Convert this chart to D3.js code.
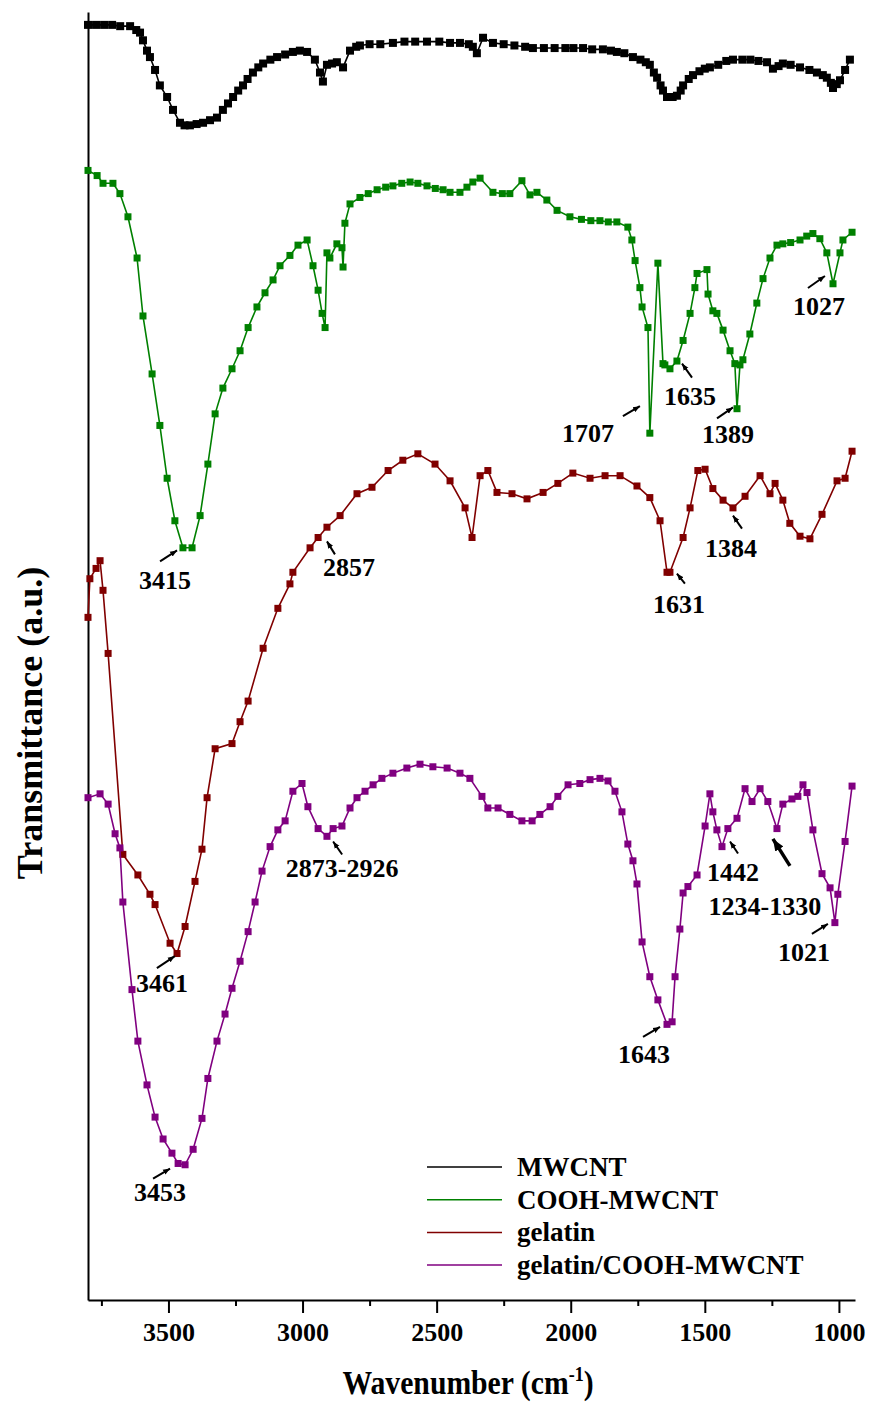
<!DOCTYPE html>
<html>
<head>
<meta charset="utf-8">
<script src="https://cdn.jsdelivr.net/npm/d3@7"></script>
<style>
  body { margin: 0; background: #fff; }
  svg text { font-family: 'Liberation Serif', 'Times New Roman', serif; font-weight: bold; fill: #000; }
</style>
</head>
<body>
<div id="chart"></div>
<script>
// series names / colours
const seriesNames = ['MWCNT', 'COOH-MWCNT', 'gelatin', 'gelatin/COOH-MWCNT'];
const seriesColors = ['#000000', '#008000', '#800000', '#800080'];

// MWCNT
const mwcntWave = [3800, 3770, 3740, 3710, 3680, 3643, 3620, 3606, 3595, 3580, 3569, 3550, 3532, 3505, 3483, 3457, 3440, 3420, 3395, 3371,
  3345, 3319, 3297, 3278, 3259, 3240, 3222, 3205, 3185, 3165, 3147, 3120, 3095, 3065, 3036, 3010, 2983, 2954, 2935, 2924,
  2909, 2890, 2872, 2849, 2823, 2800, 2786, 2750, 2710, 2663, 2620, 2580, 2536, 2490, 2450, 2413, 2380, 2365, 2350, 2327,
  2290, 2250, 2210, 2170, 2141, 2100, 2060, 2020, 1990, 1954, 1920, 1880, 1850, 1828, 1800, 1768, 1740, 1720, 1705, 1690,
  1678, 1665, 1656, 1641, 1620, 1604, 1590, 1581, 1560, 1544, 1520, 1500, 1481, 1450, 1420, 1395, 1360, 1330, 1300, 1268,
  1246, 1225, 1209, 1180, 1145, 1110, 1082, 1060, 1045, 1030, 1022, 1008, 996, 977, 959];
const mwcntT = [99.0, 99.0, 99.0, 99.0, 98.9, 98.9, 98.6, 98.4, 97.8, 97.0, 96.5, 95.5, 94.3, 93.4, 92.4, 91.4, 91.2, 91.2, 91.3, 91.4,
  91.6, 91.8, 92.4, 92.9, 93.4, 93.9, 94.3, 94.8, 95.3, 95.7, 96.0, 96.3, 96.5, 96.7, 96.9, 97.0, 96.9, 96.3, 95.3, 94.6,
  95.9, 96.0, 96.1, 95.7, 97.0, 97.3, 97.4, 97.5, 97.5, 97.6, 97.7, 97.7, 97.7, 97.7, 97.6, 97.6, 97.5, 97.3, 96.8, 98.0,
  97.6, 97.5, 97.4, 97.3, 97.2, 97.2, 97.2, 97.2, 97.2, 97.2, 97.1, 97.1, 97.0, 96.9, 96.8, 96.5, 96.3, 96.1, 95.9, 95.3,
  94.9, 94.3, 93.9, 93.4, 93.4, 93.5, 93.9, 94.3, 94.8, 95.1, 95.4, 95.6, 95.7, 95.9, 96.2, 96.3, 96.3, 96.3, 96.2, 96.1,
  95.6, 95.8, 96.0, 95.9, 95.7, 95.5, 95.3, 95.1, 94.9, 94.5, 94.1, 94.4, 94.7, 95.5, 96.3];

// COOH-MWCNT
const coohWave = [3800, 3766, 3744, 3707, 3681, 3651, 3617, 3595, 3561, 3532, 3505, 3476, 3446, 3412, 3382, 3353, 3326, 3297, 3263, 3233,
  3203, 3170, 3140, 3110, 3084, 3047, 3017, 2983, 2961, 2942, 2927, 2916, 2909, 2898, 2872, 2853, 2849, 2842, 2823, 2786,
  2755, 2722, 2690, 2663, 2630, 2599, 2570, 2536, 2505, 2476, 2450, 2413, 2387, 2365, 2338, 2290, 2255, 2227, 2182, 2152,
  2126, 2089, 2051, 2003, 1960, 1925, 1891, 1860, 1828, 1787, 1772, 1760, 1742, 1734, 1712, 1705, 1675, 1656, 1649, 1630,
  1604, 1581, 1555, 1537, 1529, 1492, 1488, 1470, 1455, 1432, 1406, 1388, 1380, 1369, 1358, 1332, 1306, 1283, 1257, 1231,
  1209, 1180, 1145, 1120, 1097, 1071, 1045, 1022, 996, 985, 951];
const coohT = [87.7, 87.3, 86.7, 86.7, 85.9, 84.1, 80.9, 76.4, 71.9, 67.9, 63.8, 60.5, 58.4, 58.4, 60.9, 64.9, 68.8, 70.8, 72.3, 73.7,
  75.5, 77.1, 78.2, 79.2, 80.3, 81.1, 81.9, 82.3, 80.3, 78.4, 76.6, 75.5, 81.3, 80.9, 82.0, 81.7, 80.2, 83.6, 85.1, 85.6,
  85.9, 86.2, 86.4, 86.5, 86.7, 86.8, 86.7, 86.5, 86.3, 86.2, 86.0, 86.0, 86.4, 86.8, 87.1, 86.0, 85.9, 85.9, 86.9, 85.8,
  86.0, 85.4, 84.6, 84.1, 83.9, 83.8, 83.8, 83.7, 83.7, 83.3, 82.3, 80.7, 78.6, 77.1, 75.5, 67.3, 80.5, 72.7, 72.6, 72.3,
  72.9, 74.5, 76.6, 78.6, 79.7, 80.0, 78.1, 76.8, 76.6, 75.3, 73.7, 72.7, 69.2, 72.6, 73.0, 75.0, 77.4, 79.3, 80.9, 81.9,
  82.0, 82.1, 82.3, 82.6, 82.8, 82.4, 81.3, 78.9, 81.3, 82.3, 82.9];

// gelatin
const gelatinWave = [3800, 3793, 3770, 3755, 3744, 3725, 3670, 3614, 3569, 3550, 3494, 3468, 3438, 3401, 3375, 3356, 3326, 3263, 3233, 3203,
  3147, 3092, 3047, 3036, 2972, 2942, 2909, 2860, 2797, 2741, 2681, 2626, 2570, 2506, 2450, 2394, 2368, 2338, 2309, 2275,
  2219, 2163, 2103, 2048, 1992, 1928, 1872, 1816, 1753, 1705, 1667, 1641, 1630, 1581, 1555, 1526, 1499, 1470, 1432, 1395,
  1350, 1294, 1257, 1238, 1209, 1183, 1145, 1108, 1063, 1007, 977, 951];
const gelatinT = [53.0, 56.0, 56.8, 57.4, 55.1, 50.2, 34.6, 33.0, 31.5, 30.7, 27.7, 26.9, 29.0, 32.5, 35.0, 39.0, 42.8, 43.2, 44.9, 46.5,
  50.6, 53.7, 55.6, 56.5, 58.4, 59.2, 60.0, 60.9, 62.6, 63.1, 64.4, 65.2, 65.7, 64.9, 63.6, 61.5, 59.2, 64.0, 64.4, 62.7,
  62.6, 62.2, 62.7, 63.4, 64.2, 63.8, 64.0, 64.0, 63.2, 62.3, 60.5, 56.5, 56.5, 59.2, 61.5, 64.4, 64.5, 63.0, 62.1, 61.5,
  62.4, 64.0, 62.6, 63.4, 62.1, 60.3, 59.3, 59.1, 61.0, 63.6, 63.8, 65.9];

// gelatin/COOH-MWCNT
const compWave = [3800, 3755, 3725, 3699, 3681, 3670, 3636, 3614, 3580, 3550, 3520, 3487, 3464, 3438, 3408, 3375, 3353, 3319, 3289, 3263,
  3233, 3203, 3177, 3151, 3121, 3092, 3065, 3036, 3002, 2980, 2942, 2909, 2886, 2853, 2823, 2797, 2767, 2737, 2704, 2663,
  2611, 2562, 2514, 2461, 2413, 2376, 2331, 2309, 2271, 2227, 2182, 2144, 2115, 2077, 2048, 2010, 1966, 1928, 1891, 1861,
  1835, 1809, 1787, 1768, 1753, 1734, 1705, 1675, 1641, 1622, 1611, 1593, 1581, 1563, 1529, 1499, 1481, 1470, 1455, 1436,
  1414, 1380, 1350, 1324, 1294, 1265, 1231, 1209, 1175, 1153, 1134, 1119, 1097, 1063, 1033, 1015, 1004, 977, 951];
const compT = [39.0, 39.3, 38.5, 36.2, 35.1, 30.9, 24.1, 20.1, 16.7, 14.2, 12.5, 11.4, 10.6, 10.5, 11.7, 14.1, 17.2, 20.1, 22.2, 24.2,
  26.3, 28.6, 30.9, 33.3, 35.2, 36.5, 37.2, 39.5, 40.1, 38.3, 36.6, 36.0, 36.6, 36.8, 38.2, 39.0, 39.5, 40.0, 40.5, 40.9,
  41.3, 41.6, 41.4, 41.3, 40.9, 40.5, 39.1, 38.2, 38.2, 37.7, 37.2, 37.2, 37.7, 38.3, 39.1, 40.0, 40.1, 40.4, 40.5, 40.3,
  39.5, 37.9, 35.4, 34.1, 32.3, 27.8, 25.1, 23.3, 21.4, 21.6, 25.1, 28.8, 31.6, 32.1, 33.0, 36.8, 39.3, 37.9, 36.5, 35.2,
  36.6, 37.4, 39.7, 38.7, 39.7, 38.7, 36.6, 38.5, 38.9, 39.1, 40.0, 39.4, 36.5, 33.1, 32.0, 29.3, 31.5, 35.6, 39.9];

// x axis ticks
const xTicks = [3500, 3000, 2500, 2000, 1500, 1000];
const xMinorTicks = [3750, 3250, 2750, 2250, 1750, 1250];

// peak annotations: label, arrow tip (wavenumber, transmittance)
const peakLabels = ['3415', '2857', '1707', '1635', '1389', '1027', '3461', '1631', '1384', '3453', '2873-2926', '1643', '1442', '1234-1330', '1021'];
const peakWave = [3468, 2909, 1742, 1585, 1395, 1052, 3476, 1604, 1395, 3494, 2886, 1667, 1406, 1246, 1041];
const peakT = [58.2, 58.9, 69.4, 72.7, 69.3, 79.5, 26.7, 56.4, 60.9, 10.2, 35.6, 21.2, 35.6, 35.8, 29.2];

const width = 869, height = 1405;
const margin = {left: 88, right: 855, top: 12, bottom: 1300};

const svg = d3.select('#chart').append('svg')
  .attr('width', width)
  .attr('height', height);

const x = d3.scaleLinear().domain([3800, 940]).range([margin.left, margin.right]);
const y = d3.scaleLinear().domain([0, 100]).range([margin.bottom, margin.top]);

const series = [
  {name: seriesNames[0], color: seriesColors[0], size: 8, values: mwcntWave.map((w, i) => ({w, t: mwcntT[i]}))},
  {name: seriesNames[1], color: seriesColors[1], size: 7, values: coohWave.map((w, i) => ({w, t: coohT[i]}))},
  {name: seriesNames[2], color: seriesColors[2], size: 7, values: gelatinWave.map((w, i) => ({w, t: gelatinT[i]}))},
  {name: seriesNames[3], color: seriesColors[3], size: 7, values: compWave.map((w, i) => ({w, t: compT[i]}))}
];

// arrow heads
const defs = svg.append('defs');
[['arrow', 7], ['arrowBig', 12]].forEach(([id, s]) => {
  defs.append('marker')
    .attr('id', id)
    .attr('viewBox', '0 0 10 10')
    .attr('refX', 10).attr('refY', 5)
    .attr('markerWidth', s).attr('markerHeight', s)
    .attr('markerUnits', 'userSpaceOnUse')
    .attr('orient', 'auto')
    .append('path').attr('d', 'M0,1L10,5L0,9Z').attr('fill', '#000');
});

// axes
const xAxis = d3.axisBottom(x).tickValues(xTicks).tickSize(13).tickSizeOuter(0).tickPadding(10).tickFormat(d3.format('d'));
const xAxisMinor = d3.axisBottom(x).tickValues(xMinorTicks).tickSize(6).tickSizeOuter(0).tickFormat('');

const gx = svg.append('g').attr('transform', `translate(0,${margin.bottom})`).call(xAxis);
gx.selectAll('text').style('font-size', '26px').style('font-family', "'Liberation Serif', 'Times New Roman', serif");
gx.selectAll('line, path').attr('stroke', '#000').attr('stroke-width', 2);
const gxm = svg.append('g').attr('transform', `translate(0,${margin.bottom})`).call(xAxisMinor);
gxm.select('.domain').remove();
gxm.selectAll('line').attr('stroke', '#000').attr('stroke-width', 2);

const gy = svg.append('g').attr('transform', `translate(${margin.left},0)`)
  .call(d3.axisLeft(y).tickValues([]).tickSizeOuter(0));
gy.select('.domain').attr('stroke', '#000').attr('stroke-width', 2);

// series
const line = d3.line().x(d => x(d.w)).y(d => y(d.t));
series.forEach(s => {
  const g = svg.append('g');
  g.append('path')
    .datum(s.values)
    .attr('d', line)
    .attr('fill', 'none')
    .attr('stroke', s.color)
    .attr('stroke-width', 1.6);
  g.selectAll('rect')
    .data(s.values)
    .enter().append('rect')
    .attr('x', d => x(d.w) - s.size / 2)
    .attr('y', d => y(d.t) - s.size / 2)
    .attr('width', s.size)
    .attr('height', s.size)
    .attr('fill', s.color);
});

// annotations: arrow tail offset and label offset from the tip (px)
const tailOff = [[-17, 11], [8, 13], [-17, 10], [10, 14], [-16, 11], [-17, 12], [-18, 12], [8, 10], [9, 13], [-17, 10], [9, 13], [-17, 10], [8, 12], [17, 27], [-16, 10]];
const labelOff = [[-12, 39], [22, 35], [-52, 36], [8, 41], [-5, 36], [-6, 39], [-13, 36], [2, 39], [-2, 41], [-10, 32], [9, 36], [-16, 36], [3, 40], [-8, 76], [-24, 37]];

const ann = svg.append('g');
peakLabels.forEach((label, i) => {
  const tx = x(peakWave[i]), ty = y(peakT[i]);
  const big = label === '1234-1330';
  ann.append('line')
    .attr('x1', tx + tailOff[i][0]).attr('y1', ty + tailOff[i][1])
    .attr('x2', tx).attr('y2', ty)
    .attr('stroke', '#000')
    .attr('stroke-width', big ? 3.5 : 2)
    .attr('marker-end', big ? 'url(#arrowBig)' : 'url(#arrow)');
  ann.append('text')
    .attr('x', tx + labelOff[i][0]).attr('y', ty + labelOff[i][1])
    .attr('text-anchor', 'middle')
    .style('font-size', '26px')
    .text(label);
});

// legend
const legend = svg.append('g').attr('transform', 'translate(427,1167)');
series.forEach((s, i) => {
  const row = legend.append('g').attr('transform', `translate(0,${i * 32.7})`);
  row.append('line').attr('x1', 0).attr('x2', 75).attr('y1', 0).attr('y2', 0)
    .attr('stroke', s.color).attr('stroke-width', 1.5);
  row.append('text').attr('x', 90).attr('y', 9).style('font-size', '27px').text(s.name);
});

// axis titles
const xt = svg.append('text')
  .attr('transform', 'translate(468,1394) scale(0.9,1)')
  .attr('text-anchor', 'middle')
  .style('font-size', '33px');
xt.append('tspan').text('Wavenumber (cm');
xt.append('tspan').attr('dy', -13).style('font-size', '20px').text('-1');
xt.append('tspan').attr('dy', 13).text(')');

svg.append('text')
  .attr('transform', 'translate(42,723) rotate(-90)')
  .attr('text-anchor', 'middle')
  .style('font-size', '36px')
  .text('Transmittance (a.u.)');
</script>
</body>
</html>
